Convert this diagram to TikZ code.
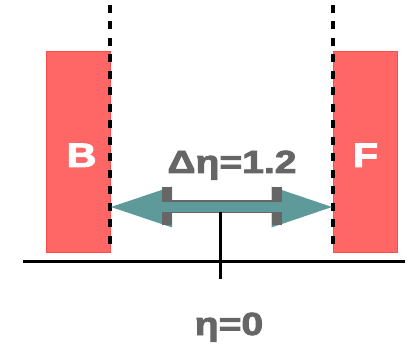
\documentclass[tikz,border=0pt]{standalone}
\usepackage{fontspec}
\setmainfont{Liberation Sans}
\newfontfamily\heavyfont{Liberation Sans}[BoldFeatures={FakeBold=2.5}]
\definecolor{boxred}{HTML}{FF6666}
\definecolor{boxedge}{HTML}{FF4D4D}
\definecolor{teal2}{HTML}{5F9A9A}
\definecolor{txtgray}{HTML}{666666}
\tikzset{
  redbox/.style={rectangle, fill=boxred, draw=boxedge, line width=0.8pt, inner sep=0pt},
  dashln/.style={black, line width=3.6pt, dash pattern=on 8pt off 8.5pt},
  axisln/.style={black, line width=3pt},
  whitelbl/.style={text=white, font=\heavyfont\bfseries\fontsize{34}{38}\selectfont, inner sep=0pt, anchor=base, xscale=1.22},
  graylbl/.style={text=txtgray, font=\heavyfont\bfseries\fontsize{32}{36}\selectfont, inner sep=0pt, anchor=base, xscale=1.22},
}
\begin{document}
\begin{tikzpicture}[x=1pt,y=-1pt]
\useasboundingbox (0,0) rectangle (408,345);
% boxes
\node[redbox, minimum width=64pt, minimum height=201pt] (B) at (78,151.5) {};
\node[redbox, minimum width=64pt, minimum height=201pt] (F) at (365,151.5) {};
% dashed lines
\coordinate (bt) at (110,5);
\coordinate (bb) at (110,252);
\coordinate (ft) at (333,5);
\coordinate (fb) at (333,252);
\draw[dashln] (bt) -- (bb);
\draw[dashln] (ft) -- (fb);
% axis
\coordinate (al) at (23,262);
\coordinate (ar) at (405,262);
\draw[axisln] (al) -- (ar);
% teal heads
\coordinate (tl) at (111,207);
\coordinate (tr) at (332,207);
\fill[teal2] (tl) -- (172,186.5) -- (172,227.5) -- cycle;
\fill[teal2] (tr) -- (271.5,186.5) -- (271.5,227.5) -- cycle;
% gray I-beam caps
\fill[txtgray] (162,187) rectangle (172,225.5);
\fill[txtgray] (271.5,187) rectangle (281.5,225.5);
% gray thin lines and teal shaft
\fill[txtgray] (172,200) rectangle (271.5,213);
\fill[teal2] (162,202) rectangle (281.5,211.7);
% vertical tick
\coordinate (vt) at (220,211.7);
\coordinate (vb) at (220,279);
\draw[axisln] (vt) -- (vb);
% labels
\node[whitelbl] (lb) at (81.5,167) {B};
\node[whitelbl] (lf) at (365.5,167) {F};
\node[graylbl] (ld) at (232,173) {Δη=1.2};
\node[graylbl] (le) at (229,335) {η=0};
\end{tikzpicture}
\end{document}
